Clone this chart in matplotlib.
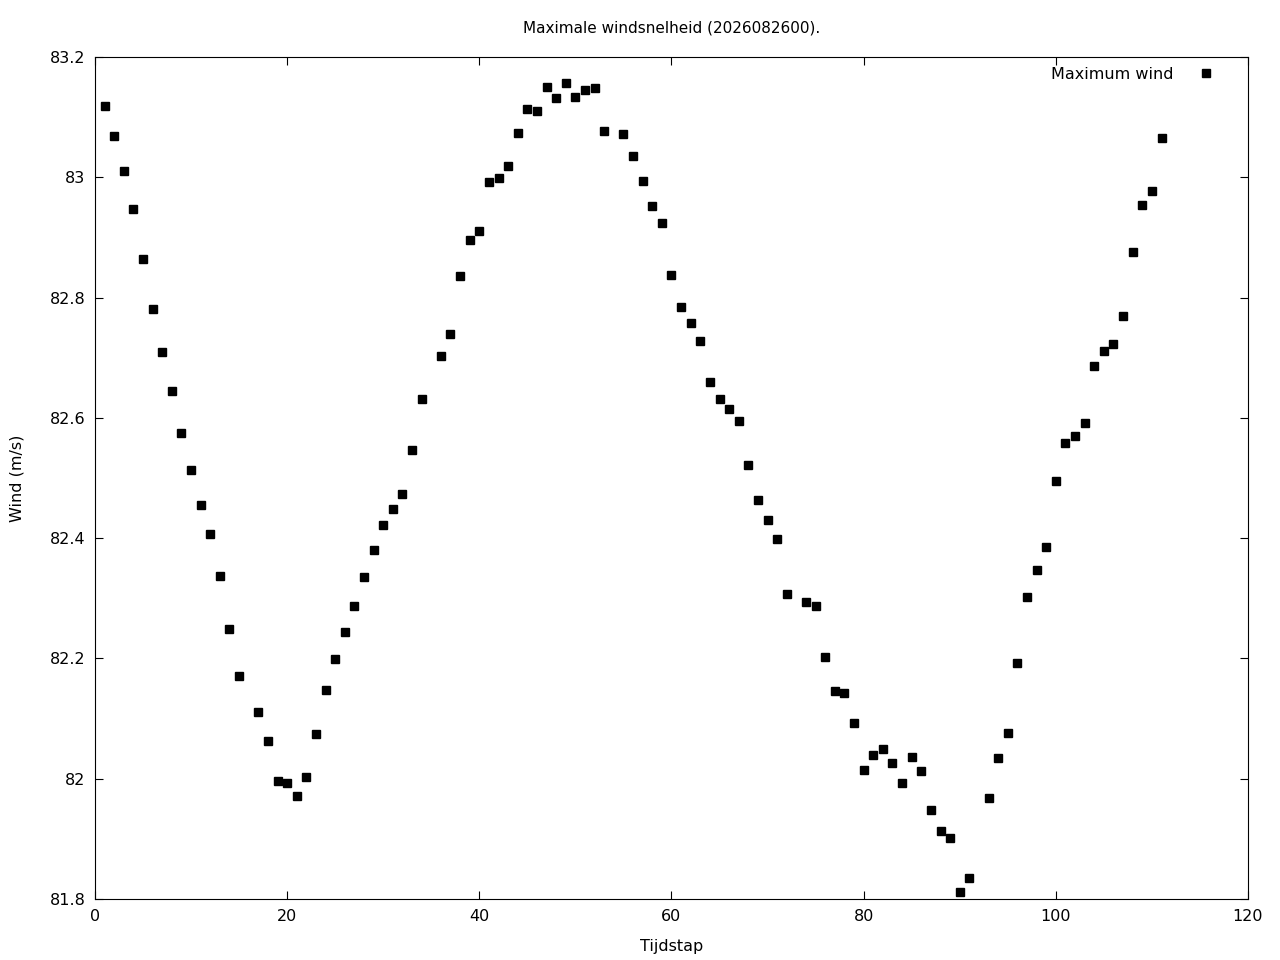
import matplotlib
matplotlib.use('Agg')
import matplotlib.pyplot as plt
from matplotlib.ticker import FuncFormatter

# tijdstappen en maximale wind (m/s)
tijdstap = [1, 2, 3, 4, 5, 6, 7, 8, 9, 10, 11, 12, 13, 14, 15,
            17, 18, 19, 20, 21, 22, 23, 24, 25, 26, 27, 28, 29, 30,
            31, 32, 33, 34, 36, 37, 38, 39, 40, 41, 42, 43, 44, 45,
            46, 47, 48, 49, 50, 51, 52, 53, 55, 56, 57, 58, 59, 60,
            61, 62, 63, 64, 65, 66, 67, 68, 69, 70, 71, 72, 74, 75,
            76, 77, 78, 79, 80, 81, 82, 83, 84, 85, 86, 87, 88, 89,
            90, 91, 93, 94, 95, 96, 97, 98, 99, 100, 101, 102, 103,
            104, 105, 106, 107, 108, 109, 110, 111]
wind = [83.118, 83.069, 83.010, 82.947, 82.864, 82.781, 82.709, 82.645,
        82.575, 82.513, 82.455, 82.407, 82.337, 82.249, 82.171,
        82.111, 82.063, 81.996, 81.993, 81.971, 82.003, 82.074, 82.147,
        82.199, 82.244, 82.287, 82.335, 82.380, 82.422,
        82.448, 82.473, 82.547, 82.631, 82.703, 82.739, 82.836, 82.896,
        82.911, 82.992, 82.999, 83.019, 83.074, 83.114,
        83.110, 83.150, 83.132, 83.157, 83.133, 83.145, 83.148, 83.077,
        83.072, 83.035, 82.994, 82.952, 82.924, 82.838,
        82.784, 82.758, 82.728, 82.660, 82.631, 82.615, 82.595, 82.522,
        82.463, 82.430, 82.399, 82.307, 82.294, 82.287,
        82.202, 82.146, 82.142, 82.093, 82.014, 82.039, 82.049, 82.026,
        81.993, 82.036, 82.013, 81.948, 81.913, 81.901,
        81.812, 81.835, 81.968, 82.034, 82.076, 82.192, 82.302, 82.347,
        82.385, 82.495, 82.558, 82.570, 82.591,
        82.686, 82.711, 82.723, 82.769, 82.876, 82.954, 82.977, 83.065]

xticks = [0, 20, 40, 60, 80, 100, 120]
yticks = [81.8, 82.0, 82.2, 82.4, 82.6, 82.8, 83.0, 83.2]

fig = plt.figure(figsize=(12.8, 9.6), dpi=100)
ax = fig.add_axes([0.0742, 0.0635, 0.9008, 0.8771])

ax.plot(tijdstap, wind, 's', color='black', markersize=5.5, label='Maximum wind')

ax.set_xlim(0, 120)
ax.set_ylim(81.8, 83.2)
ax.set_xticks(xticks)
ax.set_yticks(yticks)
ax.yaxis.set_major_formatter(FuncFormatter(lambda v, p: f'{v:g}'))
ax.tick_params(direction='in', top=True, right=True, length=6, labelsize=11.5, pad=7)

ax.set_title('Maximale windsnelheid (2026082600).', fontsize=11, pad=18)
ax.set_xlabel('Tijdstap', fontsize=11.5, labelpad=11)
ax.set_ylabel('Wind (m/s)', fontsize=11.5, labelpad=18)

leg = ax.legend(loc='upper right', bbox_to_anchor=(0.986, 1.0), frameon=False,
                fontsize=11.5, markerfirst=False, handletextpad=1.06,
                borderaxespad=0.2)

fig.savefig('out.png', dpi=100)
